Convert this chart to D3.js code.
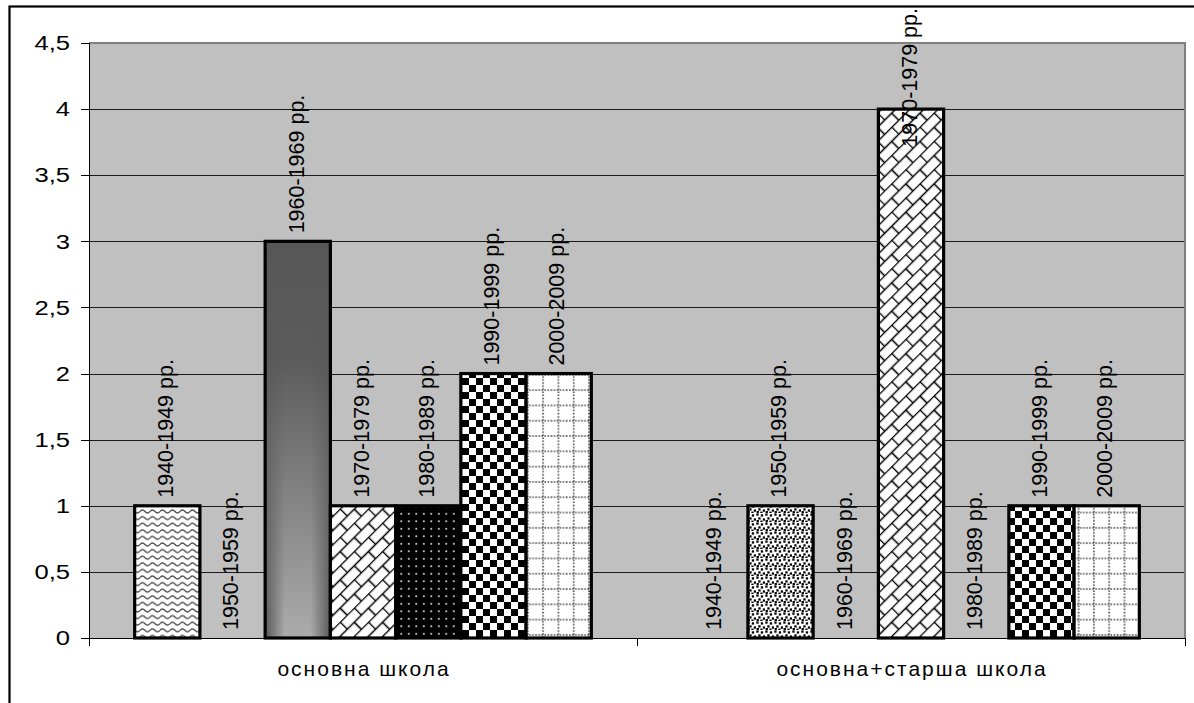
<!DOCTYPE html>
<html>
<head>
<meta charset="utf-8">
<script src="https://cdn.jsdelivr.net/npm/d3@7"></script>
<style>
  html, body { margin: 0; padding: 0; background: #fff; }
  svg { display: block; }
  text { font-family: "Liberation Sans", Arial, sans-serif; fill: #000; }
</style>
</head>
<body>
<svg id="chart" width="1194" height="703"></svg>
<script>
// School types on the x axis
const categories = ["основна школа", "основна+старша школа"];
// Decades, one bar each inside a school type
const decades = ["1940-1949 рр.", "1950-1959 рр.", "1960-1969 рр.", "1970-1979 рр.",
                 "1980-1989 рр.", "1990-1999 рр.", "2000-2009 рр."];
// Counts per decade for each school type
const basicSchool  = [1, 0, 3, 1, 1, 2, 2];
const basicUpper   = [0, 1, 0, 4, 0, 1, 1];
// Value axis ticks
const yTicks = [0, 0.5, 1, 1.5, 2, 2.5, 3, 3.5, 4, 4.5];

const seriesByCategory = [basicSchool, basicUpper];

const svg = d3.select("#chart");
const W = 1194, H = 703;
const plot = { left: 89, top: 43, right: 1185, bottom: 638 };

// ---- fill patterns, one per decade ----
const defs = svg.append("defs");

// wavy lines
{
  const p = defs.append("pattern").attr("id", "fill0").attr("patternUnits", "userSpaceOnUse")
    .attr("width", 10).attr("height", 6.6);
  p.append("rect").attr("width", 10).attr("height", 6.6).attr("fill", "#fff");
  p.append("path").attr("d", "M0,3.3 Q2.5,0.6 5,3.3 T10,3.3")
    .attr("fill", "none").attr("stroke", "#4a4a4a").attr("stroke-width", 1.4);
}
// confetti
{
  const p = defs.append("pattern").attr("id", "fill1").attr("patternUnits", "userSpaceOnUse")
    .attr("width", 9).attr("height", 9);
  p.append("rect").attr("width", 9).attr("height", 9).attr("fill", "#fff");
  [[0.3, 0.4], [4.8, 1.3], [2.3, 4.3], [6.8, 5.4], [0.6, 7.0], [4.3, 7.6]].forEach(([x, y]) =>
    p.append("rect").attr("x", x).attr("y", y).attr("width", 2.3).attr("height", 2.3).attr("fill", "#000"));
}
// shaded gradient
{
  const g = defs.append("linearGradient").attr("id", "shadeV")
    .attr("x1", 0).attr("y1", 0).attr("x2", 0).attr("y2", 1);
  g.append("stop").attr("offset", 0).attr("stop-color", "#565656");
  g.append("stop").attr("offset", 0.3).attr("stop-color", "#5c5c5c");
  g.append("stop").attr("offset", 1).attr("stop-color", "#ababab");
  const h = defs.append("linearGradient").attr("id", "shadeH")
    .attr("x1", 0).attr("y1", 0).attr("x2", 1).attr("y2", 0);
  h.append("stop").attr("offset", 0).attr("stop-color", "#3c3c3c").attr("stop-opacity", 0.75);
  h.append("stop").attr("offset", 0.3).attr("stop-color", "#3c3c3c").attr("stop-opacity", 0);
  h.append("stop").attr("offset", 0.7).attr("stop-color", "#3c3c3c").attr("stop-opacity", 0);
  h.append("stop").attr("offset", 1).attr("stop-color", "#3c3c3c").attr("stop-opacity", 0.75);
  const mg = defs.append("linearGradient").attr("id", "shadeMaskGrad")
    .attr("x1", 0).attr("y1", 0).attr("x2", 0).attr("y2", 1);
  mg.append("stop").attr("offset", 0.2).attr("stop-color", "#000");
  mg.append("stop").attr("offset", 1).attr("stop-color", "#fff");
  const m = defs.append("mask").attr("id", "shadeMask")
    .attr("maskContentUnits", "objectBoundingBox");
  m.append("rect").attr("width", 1).attr("height", 1).attr("fill", "url(#shadeMaskGrad)");
}
// diagonal brick
{
  const p = defs.append("pattern").attr("id", "fill3").attr("patternUnits", "userSpaceOnUse")
    .attr("width", 20).attr("height", 20).attr("patternTransform", "rotate(-45)");
  p.append("rect").attr("width", 20).attr("height", 20).attr("fill", "#fff");
  p.append("path").attr("d", "M0,0.5 H20 M0,10.5 H20 M0.5,0.5 V10.5 M10.5,10.5 V20")
    .attr("fill", "none").attr("stroke", "#000").attr("stroke-width", 1.6);
}
// black with white dots
{
  const p = defs.append("pattern").attr("id", "fill4").attr("patternUnits", "userSpaceOnUse")
    .attr("width", 7.5).attr("height", 7.5);
  p.append("rect").attr("width", 7.5).attr("height", 7.5).attr("fill", "#000");
  p.append("rect").attr("x", 3).attr("y", 3).attr("width", 1.6).attr("height", 1.6).attr("fill", "#fff");
}
// checkerboard
{
  const p = defs.append("pattern").attr("id", "fill5").attr("patternUnits", "userSpaceOnUse")
    .attr("width", 14).attr("height", 14);
  p.append("rect").attr("width", 14).attr("height", 14).attr("fill", "#fff");
  p.append("rect").attr("width", 7).attr("height", 7).attr("fill", "#000");
  p.append("rect").attr("x", 7).attr("y", 7).attr("width", 7).attr("height", 7).attr("fill", "#000");
}
// dotted grid
{
  const p = defs.append("pattern").attr("id", "fill6").attr("patternUnits", "userSpaceOnUse")
    .attr("width", 15.3).attr("height", 15.3);
  p.append("rect").attr("width", 15.3).attr("height", 15.3).attr("fill", "#fff");
  p.append("path").attr("d", "M7.6,0 V15.3 M0,7.6 H15.3")
    .attr("fill", "none").attr("stroke", "#3a3a3a").attr("stroke-width", 1.5)
    .attr("stroke-dasharray", "1.5,1.5");
}
const fills = ["url(#fill0)", "url(#fill1)", "url(#shadeV)", "url(#fill3)",
               "url(#fill4)", "url(#fill5)", "url(#fill6)"];

// ---- outer chart frame ----
svg.append("rect").attr("x", 9.5).attr("y", 6.5).attr("width", W + 20).attr("height", H + 20)
  .attr("fill", "none").attr("stroke", "#000").attr("stroke-width", 2.2);

// ---- scales ----
const x0 = d3.scaleBand().domain(categories).range([plot.left, plot.right]).padding(0);
const x1 = d3.scaleBand().domain(decades).range([0, x0.bandwidth()])
  .paddingInner(0).paddingOuter(0.7);
const y = d3.scaleLinear().domain([0, 4.5]).range([plot.bottom, plot.top]);

// plot background
svg.append("rect").attr("x", plot.left).attr("y", plot.top)
  .attr("width", plot.right - plot.left).attr("height", plot.bottom - plot.top)
  .attr("fill", "#c0c0c0");

// gridlines
svg.append("g").selectAll("line").data(yTicks.filter(t => t > 0 && t < 4.5)).join("line")
  .attr("x1", plot.left).attr("x2", plot.right)
  .attr("y1", d => Math.round(y(d)) + 0.5).attr("y2", d => Math.round(y(d)) + 0.5)
  .attr("stroke", "#1a1a1a").attr("stroke-width", 1);

// plot border (top and right)
svg.append("path")
  .attr("d", `M${plot.left},${plot.top} H${plot.right} V${plot.bottom}`)
  .attr("fill", "none").attr("stroke", "#808080").attr("stroke-width", 2);

// ---- bars ----
const barData = [];
categories.forEach((c, ci) => {
  decades.forEach((d, di) => {
    barData.push({ cat: c, dec: d, di, value: seriesByCategory[ci][di] });
  });
});

const bars = svg.append("g");
barData.filter(d => d.value > 0).forEach(d => {
  const bx = x0(d.cat) + x1(d.dec);
  const by = y(d.value);
  const bw = x1.bandwidth();
  const bh = y(0) - by;
  bars.append("rect").attr("x", bx).attr("y", by).attr("width", bw).attr("height", bh)
    .attr("fill", fills[d.di]);
  if (d.di === 2) {
    bars.append("rect").attr("x", bx).attr("y", by).attr("width", bw).attr("height", bh)
      .attr("fill", "url(#shadeH)").attr("mask", "url(#shadeMask)");
  }
  bars.append("rect").attr("x", bx).attr("y", by).attr("width", bw).attr("height", bh)
    .attr("fill", "none").attr("stroke", "#000").attr("stroke-width", 3.2);
});

// ---- axes ----
const yAxis = svg.append("g");
yAxis.append("line").attr("x1", plot.left + 0.5).attr("x2", plot.left + 0.5)
  .attr("y1", plot.top).attr("y2", plot.bottom + 8).attr("stroke", "#000");
yAxis.selectAll("line.tick").data(yTicks).join("line").attr("class", "tick")
  .attr("x1", plot.left - 8).attr("x2", plot.left)
  .attr("y1", d => Math.round(y(d)) + 0.5).attr("y2", d => Math.round(y(d)) + 0.5)
  .attr("stroke", "#000");
const fmt = v => String(v).replace(".", ",");
yAxis.selectAll("text").data(yTicks).join("text")
  .attr("transform", d => `translate(70,${y(d)}) scale(1.28,1)`)
  .attr("dy", "0.36em").attr("text-anchor", "end")
  .style("font-size", "20px")
  .text(fmt);

const xAxis = svg.append("g");
xAxis.append("line").attr("x1", plot.left).attr("x2", plot.right)
  .attr("y1", plot.bottom + 0.5).attr("y2", plot.bottom + 0.5).attr("stroke", "#000");
xAxis.selectAll("line.tick").data([plot.left, x0(categories[1]), plot.right]).join("line")
  .attr("class", "tick")
  .attr("x1", d => Math.round(d) + 0.5).attr("x2", d => Math.round(d) + 0.5)
  .attr("y1", plot.bottom).attr("y2", plot.bottom + 8).attr("stroke", "#000");
xAxis.selectAll("text").data(categories).join("text")
  .attr("x", d => x0(d) + x0.bandwidth() / 2 + 1)
  .attr("y", 676)
  .attr("text-anchor", "middle")
  .style("font-size", "21px").style("letter-spacing", "2px")
  .text(d => d);

// ---- rotated decade labels above every bar ----
const labels = svg.append("g");
barData.forEach(d => {
  const cx = x0(d.cat) + x1(d.dec) + x1.bandwidth() / 2 - 2;
  const t = labels.append("text")
    .style("font-size", "21.5px")
    .attr("dy", "0.36em")
    .text(d.dec);
  const len = t.node().getComputedTextLength();
  const start = Math.max(y(d.value) - 8, 8 + len);
  t.attr("transform", `translate(${cx},${start}) rotate(-90)`);
});
</script>
</body>
</html>
